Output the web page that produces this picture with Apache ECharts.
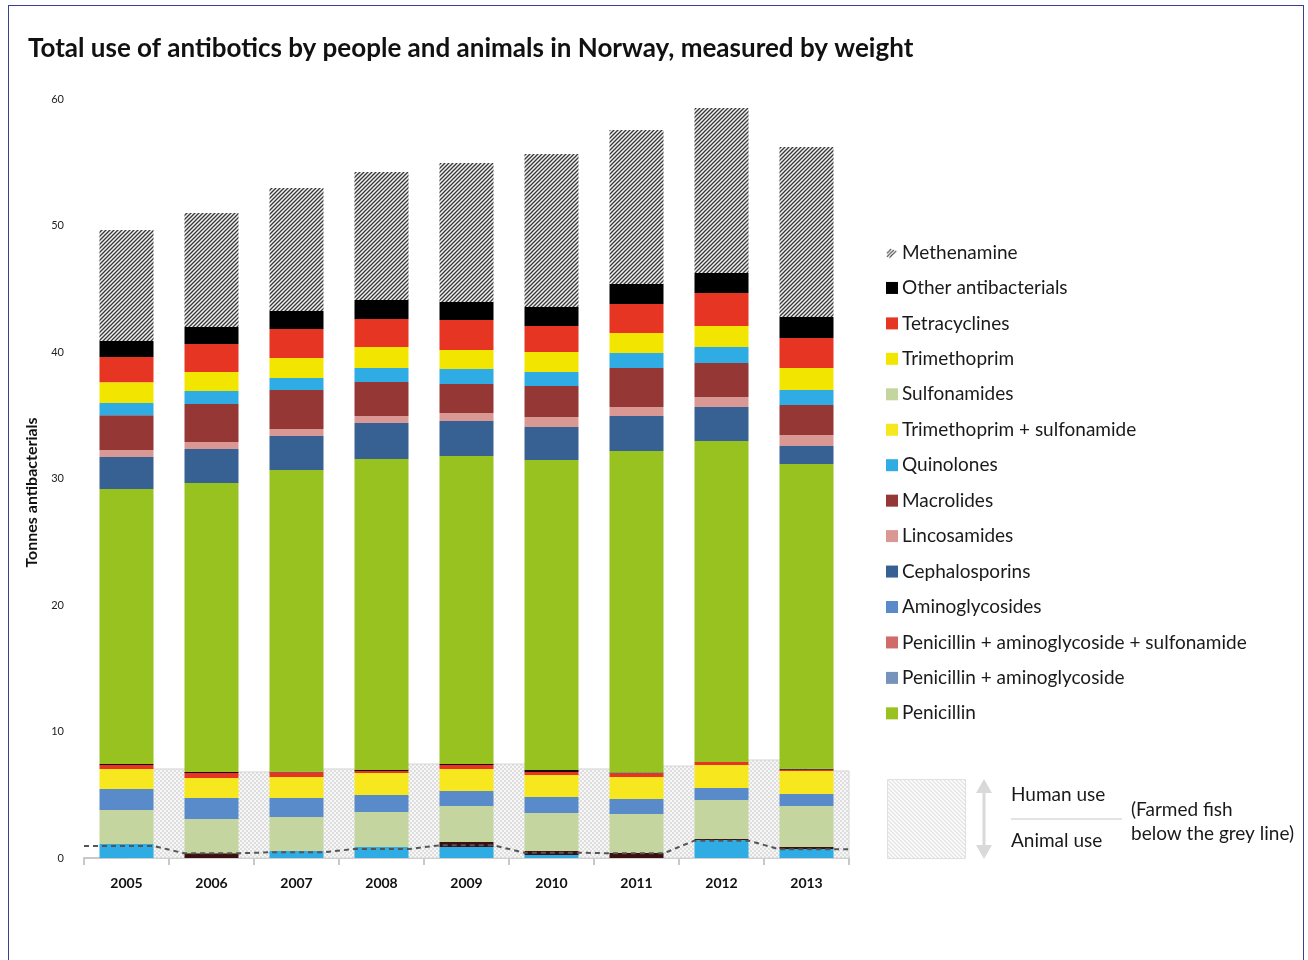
<!DOCTYPE html>
<html>
<head>
<meta charset="utf-8">
<script src="https://cdn.jsdelivr.net/npm/echarts@6/dist/echarts.min.js"></script>
<style>
html,body{margin:0;padding:0;background:#fff;}
#frame{position:absolute;left:8px;top:5px;width:1296px;height:1000px;border:1px solid #3a3f8f;box-sizing:border-box;}
#chart{position:absolute;left:0;top:0;width:1308px;height:960px;}
</style>
</head>
<body>
<div id="frame"></div>
<div id="chart"></div>
<script>
// ---------- data ----------
const years = ['2005','2006','2007','2008','2009','2010','2011','2012','2013'];
const yTicks = [0,10,20,30,40,50,60];

// Animal use (bottom part of each bar), tonnes
const animalQuinolones      = [1.10,0.00,0.55,0.87,0.87,0.24,0.00,1.42,0.71];
const animalOtherDark       = [0.00,0.37,0.00,0.00,0.39,0.31,0.40,0.08,0.16];
const animalPenAminoSulf    = [0,0,0,0,0,0,0,0,0];
const animalPenAmino        = [0,0,0,0,0,0,0,0,0];
const animalSulfonamides    = [2.69,2.71,2.69,2.77,2.85,3.01,3.08,3.08,3.24];
const animalAminoglycosides = [1.66,1.66,1.50,1.34,1.19,1.26,1.18,0.95,0.95];
const animalTrimSulf        = [1.59,1.58,1.66,1.74,1.74,1.74,1.74,1.82,1.82];
const animalTetracyclines   = [0.31,0.40,0.37,0.16,0.31,0.24,0.29,0.24,0.10];
const animalOtherTop        = [0.08,0.08,0.05,0.08,0.08,0.16,0.06,0.00,0.08];

// Human use (upper part of each bar), tonnes
const humanPenicillin       = [21.74,22.84,23.85,24.58,24.35,24.50,25.42,25.37,24.09];
const humanCephalosporins   = [2.53,2.69,2.69,2.85,2.77,2.61,2.77,2.69,1.42];
const humanLincosamides     = [0.55,0.56,0.55,0.55,0.63,0.79,0.71,0.79,0.87];
const humanMacrolides       = [2.75,3.00,3.09,2.69,2.29,2.45,3.09,2.69,2.37];
const humanQuinolones       = [0.97,1.03,0.94,1.11,1.19,1.11,1.18,1.27,1.19];
const humanTrimethoprim     = [1.63,1.50,1.59,1.66,1.50,1.58,1.58,1.66,1.74];
const humanTetracyclines    = [2.00,2.21,2.29,2.21,2.37,2.06,2.29,2.60,2.37];
const humanOther            = [1.27,1.35,1.42,1.50,1.42,1.50,1.59,1.59,1.66];
const humanMethenamine      = [8.77,9.01,9.72,10.12,10.99,12.09,12.17,13.04,13.43];

// Human/animal divider band shown between bars (tonnes)
const dividerLevel = [7.04,6.80,7.04,7.43,7.43,7.04,7.27,7.75,6.88];
// Farmed fish line (tonnes)
const farmedFish = [0.95,0.37,0.45,0.71,1.00,0.42,0.37,1.37,0.69];

const legendNames = ['Methenamine','Other antibacterials','Tetracyclines','Trimethoprim','Sulfonamides',
  'Trimethoprim + sulfonamide','Quinolones','Macrolides','Lincosamides','Cephalosporins','Aminoglycosides',
  'Penicillin + aminoglycoside + sulfonamide','Penicillin + aminoglycoside','Penicillin'];

// ---------- styles ----------
const C = {
  'Methenamine':'#555555','Other antibacterials':'#000000','Tetracyclines':'#e63522','Trimethoprim':'#f2e600',
  'Sulfonamides':'#c4d59f','Trimethoprim + sulfonamide':'#f6e71e','Quinolones':'#2eace3','Macrolides':'#943735',
  'Lincosamides':'#d99894','Cephalosporins':'#376193','Aminoglycosides':'#598bca',
  'Penicillin + aminoglycoside + sulfonamide':'#d26a69','Penicillin + aminoglycoside':'#7792bb','Penicillin':'#98c21f'
};
const darkBrown = '#3a1010';
const FONT = 'Lato, "Noto Sans", sans-serif';

function makeCanvas(n, draw){
  const c = document.createElement('canvas'); c.width = n; c.height = n;
  const ctx = c.getContext('2d'); draw(ctx, n); return c;
}
const hatch = makeCanvas(4, (ctx,n)=>{
  ctx.fillStyle='#f2f2f2'; ctx.fillRect(0,0,n,n);
  ctx.strokeStyle='#383838'; ctx.lineWidth=1.3;
  ctx.beginPath();
  ctx.moveTo(-1,n+1); ctx.lineTo(n+1,-1);
  ctx.moveTo(-1,1); ctx.lineTo(1,-1);
  ctx.moveTo(n-1,n+1); ctx.lineTo(n+1,n-1);
  ctx.stroke();
});
const checker = makeCanvas(4, (ctx,n)=>{
  ctx.fillStyle='#f7f7f7'; ctx.fillRect(0,0,n,n);
  ctx.fillStyle='#dedede'; ctx.fillRect(0,0,2,2); ctx.fillRect(2,2,2,2);
});
const lightHatch = makeCanvas(4, (ctx,n)=>{
  ctx.fillStyle='#ffffff'; ctx.fillRect(0,0,n,n);
  ctx.strokeStyle='#c9c9c9'; ctx.lineWidth=1;
  ctx.beginPath();
  ctx.moveTo(-1,-1); ctx.lineTo(n+1,n+1);
  ctx.moveTo(n-1,-1); ctx.lineTo(n+1,1);
  ctx.moveTo(-1,n-1); ctx.lineTo(1,n+1);
  ctx.stroke();
});
const methIcon = makeCanvas(14, (ctx,n)=>{
  ctx.strokeStyle='#444'; ctx.lineWidth=1.2;
  ctx.beginPath();
  ctx.moveTo(1,12); ctx.lineTo(9,4);
  ctx.moveTo(4,13); ctx.lineTo(12,5);
  ctx.moveTo(1,8); ctx.lineTo(6,3);
  ctx.stroke();
}).toDataURL();

// ---------- series ----------
const BAR_W = 54;
function bar(name, data, color){
  return {name, type:'bar', stack:'total', data, barWidth:BAR_W, z:3,
    itemStyle:{color}, emphasis:{disabled:true}};
}
const series = [
  {
    name:'divider', type:'custom', z:1, silent:true,
    data: dividerLevel.map((v,i)=>[i,v]),
    renderItem(params, api){
      const i = api.value(0), v = api.value(1);
      const p = api.coord([i, v]), base = api.coord([i, 0]);
      const band = api.size([1,0])[0];
      const w = (params.dataIndex === dividerLevel.length-1) ? band/2 : band;
      return {type:'rect', shape:{x:p[0], y:p[1], width:w, height:base[1]-p[1]},
        style:{fill:{image:checker, repeat:'repeat'}, stroke:'#d6d6d6', lineWidth:1}};
    }
  },
  bar('Quinolones', animalQuinolones, C['Quinolones']),
  bar('Other antibacterials', animalOtherDark, darkBrown),
  bar('Penicillin + aminoglycoside + sulfonamide', animalPenAminoSulf, C['Penicillin + aminoglycoside + sulfonamide']),
  bar('Penicillin + aminoglycoside', animalPenAmino, C['Penicillin + aminoglycoside']),
  bar('Sulfonamides', animalSulfonamides, C['Sulfonamides']),
  bar('Aminoglycosides', animalAminoglycosides, C['Aminoglycosides']),
  bar('Trimethoprim + sulfonamide', animalTrimSulf, C['Trimethoprim + sulfonamide']),
  bar('Tetracyclines', animalTetracyclines, C['Tetracyclines']),
  bar('Other antibacterials', animalOtherTop, '#1a0a0a'),
  bar('Penicillin', humanPenicillin, C['Penicillin']),
  bar('Cephalosporins', humanCephalosporins, C['Cephalosporins']),
  bar('Lincosamides', humanLincosamides, C['Lincosamides']),
  bar('Macrolides', humanMacrolides, C['Macrolides']),
  bar('Quinolones', humanQuinolones, C['Quinolones']),
  bar('Trimethoprim', humanTrimethoprim, C['Trimethoprim']),
  bar('Tetracyclines', humanTetracyclines, C['Tetracyclines']),
  bar('Other antibacterials', humanOther, C['Other antibacterials']),
  bar('Methenamine', humanMethenamine, {image:hatch, repeat:'repeat'}),
];
// farmed fish dashed line: flat across each bar, sloping in the gaps
const HALF = 0.32;
const fishPts = [];
farmedFish.forEach((v,i)=>{
  fishPts.push([i===0 ? -0.5 : i-HALF, v]);
  fishPts.push([i===farmedFish.length-1 ? farmedFish.length-0.5 : i+HALF, v]);
});
series.push({name:'Farmed fish', type:'line', xAxisIndex:1, data:fishPts, symbol:'none', z:5,
  lineStyle:{color:'#555', width:2, type:[5,4]}, silent:true});

const chart = echarts.init(document.getElementById('chart'), null, {renderer:'canvas'});
chart.setOption({
  animation:false,
  backgroundColor:'transparent',
  textStyle:{fontFamily:FONT},
  title:{text:'Total use of antibotics by people and animals in Norway, measured by weight',
    left:23, top:31, textStyle:{fontFamily:FONT, fontSize:26, fontWeight:'bold', color:'#111'}},
  grid:{left:84, right:459, top:99, bottom:102},
  legend:{
    orient:'vertical', left:886, top:243, itemWidth:12, itemHeight:12, itemGap:16.45, padding:0,
    textStyle:{fontFamily:FONT, fontSize:19, color:'#1a1a1a', padding:[0,0,0,-1]},
    selectedMode:false,
    data: legendNames.map(n => n==='Methenamine'
      ? {name:n, icon:'image://'+methIcon}
      : {name:n, icon:'rect', itemStyle:{color:C[n]}})
  },
  xAxis:[{
    type:'category', data:years,
    axisLine:{lineStyle:{color:'#c8c8c8', width:2}},
    axisTick:{show:true, length:7, lineStyle:{color:'#c8c8c8', width:2}},
    axisLabel:{fontFamily:FONT, fontSize:14, fontWeight:'bold', color:'#111', margin:18}
  },{
    type:'value', min:-0.5, max:years.length-0.5, show:false
  }],
  yAxis:{
    type:'value', min:yTicks[0], max:yTicks[yTicks.length-1], interval:10,
    name:'Tonnes antibacterials', nameLocation:'middle', nameGap:44, nameRotate:90,
    nameTextStyle:{fontFamily:FONT, fontSize:16, fontWeight:'bold', color:'#111', padding:[0,28,0,0]},
    axisLine:{show:false}, axisTick:{show:false}, splitLine:{show:false},
    axisLabel:{fontFamily:FONT, fontSize:11, color:'#222', margin:20}
  },
  series,
  graphic:[
    {type:'rect', left:887, top:779, shape:{width:78, height:79},
      style:{fill:{image:lightHatch, repeat:'repeat'}, stroke:'#e0e0e0', lineWidth:1}},
    {type:'line', shape:{x1:984, y1:792, x2:984, y2:846}, style:{stroke:'#d9d9d9', lineWidth:3}},
    {type:'polygon', shape:{points:[[984,779],[976,793],[992,793]]}, style:{fill:'#d9d9d9'}},
    {type:'polygon', shape:{points:[[984,859],[976,845],[992,845]]}, style:{fill:'#d9d9d9'}},
    {type:'line', shape:{x1:1011, y1:819, x2:1122, y2:819}, style:{stroke:'#dadada', lineWidth:1.5}},
    {type:'text', left:1011, top:785, style:{text:'Human use', font:'19px '+FONT, fill:'#1a1a1a'}},
    {type:'text', left:1011, top:831, style:{text:'Animal use', font:'19px '+FONT, fill:'#1a1a1a'}},
    {type:'text', left:1131, top:800, style:{text:'(Farmed fish', font:'19px '+FONT, fill:'#1a1a1a'}},
    {type:'text', left:1131, top:824, style:{text:'below the grey line)', font:'19px '+FONT, fill:'#1a1a1a'}}
  ]
});
</script>
</body>
</html>
